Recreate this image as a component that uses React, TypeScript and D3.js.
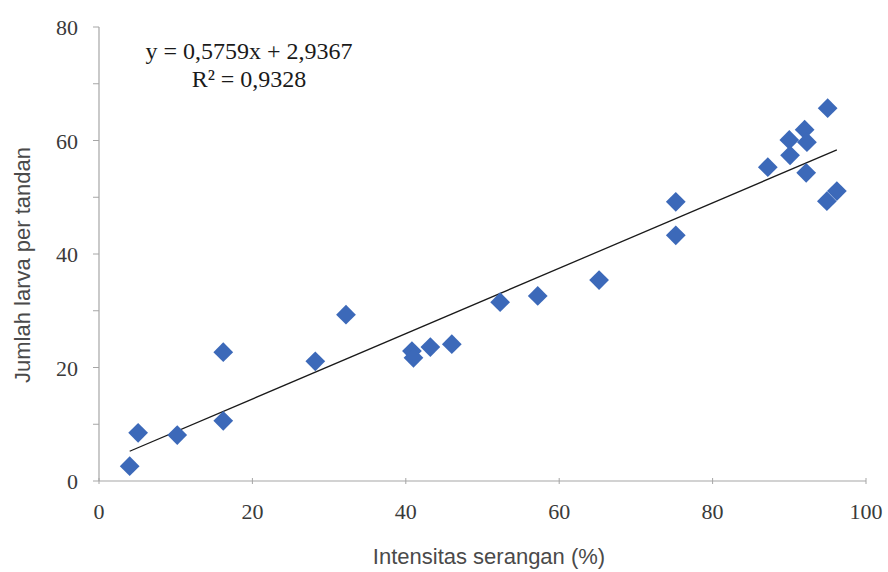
import React, { useRef, useEffect } from "react";
import * as d3 from "d3";

// Intensitas serangan (%) vs Jumlah larva per tandan
const intensitas = [4.0, 5.1, 10.2, 16.2, 16.2, 28.2, 32.2, 40.8, 41.0, 43.2, 46.0, 52.3, 57.2, 65.2, 75.2, 75.2, 87.2, 90.0, 90.1, 92.0, 92.3, 92.2, 95.0, 94.9, 96.2];
const jumlahLarva = [2.6, 8.5, 8.1, 10.6, 22.7, 21.1, 29.3, 22.9, 21.7, 23.6, 24.1, 31.5, 32.6, 35.4, 49.2, 43.3, 55.3, 60.1, 57.4, 61.9, 59.7, 54.3, 65.7, 49.3, 51.1];

const xTicks = [0, 20, 40, 60, 80, 100];
const yTicks = [0, 20, 40, 60, 80];
const yMinorTicks = [10, 30, 50, 70];

const slope = 0.5759;
const intercept = 2.9367;
const eqLabel = "y = 0,5759x + 2,9367";
const r2Label = "R² = 0,9328";

const W = 888;
const H = 572;

const App = () => {
  const svgRef = useRef<SVGSVGElement>(null);

  useEffect(() => {
    const svg = d3.select(svgRef.current);
    svg.selectAll("*").remove();

    const x = d3.scaleLinear().domain([0, 100]).range([99, 866]);
    const y = d3.scaleLinear().domain([0, 80]).range([481, 27]);

    const axisColor = "#a6a6a6";
    const textColor = "#3a3a3a";

    // axes lines
    svg.append("line")
      .attr("x1", x(0)).attr("x2", x(100))
      .attr("y1", y(0)).attr("y2", y(0))
      .attr("stroke", axisColor).attr("stroke-width", 1.2);
    svg.append("line")
      .attr("x1", x(0)).attr("x2", x(0))
      .attr("y1", y(0)).attr("y2", y(80))
      .attr("stroke", axisColor).attr("stroke-width", 1.2);

    // x ticks
    svg.append("g").selectAll("line")
      .data(xTicks)
      .enter()
      .append("line")
      .attr("x1", (d) => x(d)).attr("x2", (d) => x(d))
      .attr("y1", y(0) - 3).attr("y2", y(0) + 3)
      .attr("stroke", axisColor);

    svg.append("g").selectAll("text")
      .data(xTicks)
      .enter()
      .append("text")
      .attr("x", (d) => x(d))
      .attr("y", 519)
      .attr("text-anchor", "middle")
      .attr("font-family", "'Liberation Serif', 'Times New Roman', serif")
      .attr("font-size", 22)
      .attr("fill", textColor)
      .text((d) => d);

    // y ticks
    svg.append("g").selectAll("line")
      .data([...yTicks, ...yMinorTicks])
      .enter()
      .append("line")
      .attr("x1", x(0) - 6).attr("x2", x(0))
      .attr("y1", (d) => y(d)).attr("y2", (d) => y(d))
      .attr("stroke", axisColor);

    svg.append("g").selectAll("text")
      .data(yTicks)
      .enter()
      .append("text")
      .attr("x", 78)
      .attr("y", (d) => y(d) + 8)
      .attr("text-anchor", "end")
      .attr("font-family", "'Liberation Serif', 'Times New Roman', serif")
      .attr("font-size", 22)
      .attr("fill", textColor)
      .text((d) => d);

    // axis titles
    svg.append("text")
      .attr("x", 489)
      .attr("y", 564)
      .attr("text-anchor", "middle")
      .attr("font-family", "'Liberation Sans', Arial, sans-serif")
      .attr("font-size", 22)
      .attr("fill", "#4a4a4a")
      .text("Intensitas serangan (%)");

    svg.append("text")
      .attr("transform", "translate(30, 265) rotate(-90)")
      .attr("text-anchor", "middle")
      .attr("font-family", "'Liberation Sans', Arial, sans-serif")
      .attr("font-size", 22)
      .attr("fill", "#4a4a4a")
      .text("Jumlah larva per tandan");

    // trend line
    const xMin = d3.min(intensitas) as number;
    const xMax = d3.max(intensitas) as number;
    svg.append("line")
      .attr("x1", x(xMin)).attr("y1", y(slope * xMin + intercept))
      .attr("x2", x(xMax)).attr("y2", y(slope * xMax + intercept))
      .attr("stroke", "#1a1a1a")
      .attr("stroke-width", 1.3);

    // points
    const diamond = d3.symbol().type(d3.symbolSquare).size(195);
    svg.append("g").selectAll("path")
      .data(intensitas.map((v, i) => ({ x: v, y: jumlahLarva[i] })))
      .enter()
      .append("path")
      .attr("d", diamond)
      .attr("transform", (d) => `translate(${x(d.x)}, ${y(d.y)}) rotate(45)`)
      .attr("fill", "#3c69b9");

    // equation
    const eq = svg.append("text")
      .attr("font-family", "'Liberation Serif', 'Times New Roman', serif")
      .attr("font-size", 24)
      .attr("fill", "#1a1a1a")
      .attr("text-anchor", "middle");
    eq.append("tspan").attr("x", 249).attr("y", 59).text(eqLabel);
    eq.append("tspan").attr("x", 249).attr("y", 87).text(r2Label);
  }, []);

  return (
    <div style={{ position: "absolute", left: 0, top: 0, background: "#fff" }}>
      <svg ref={svgRef} width={W} height={H} style={{ display: "block" }}></svg>
    </div>
  );
};

export default App;
